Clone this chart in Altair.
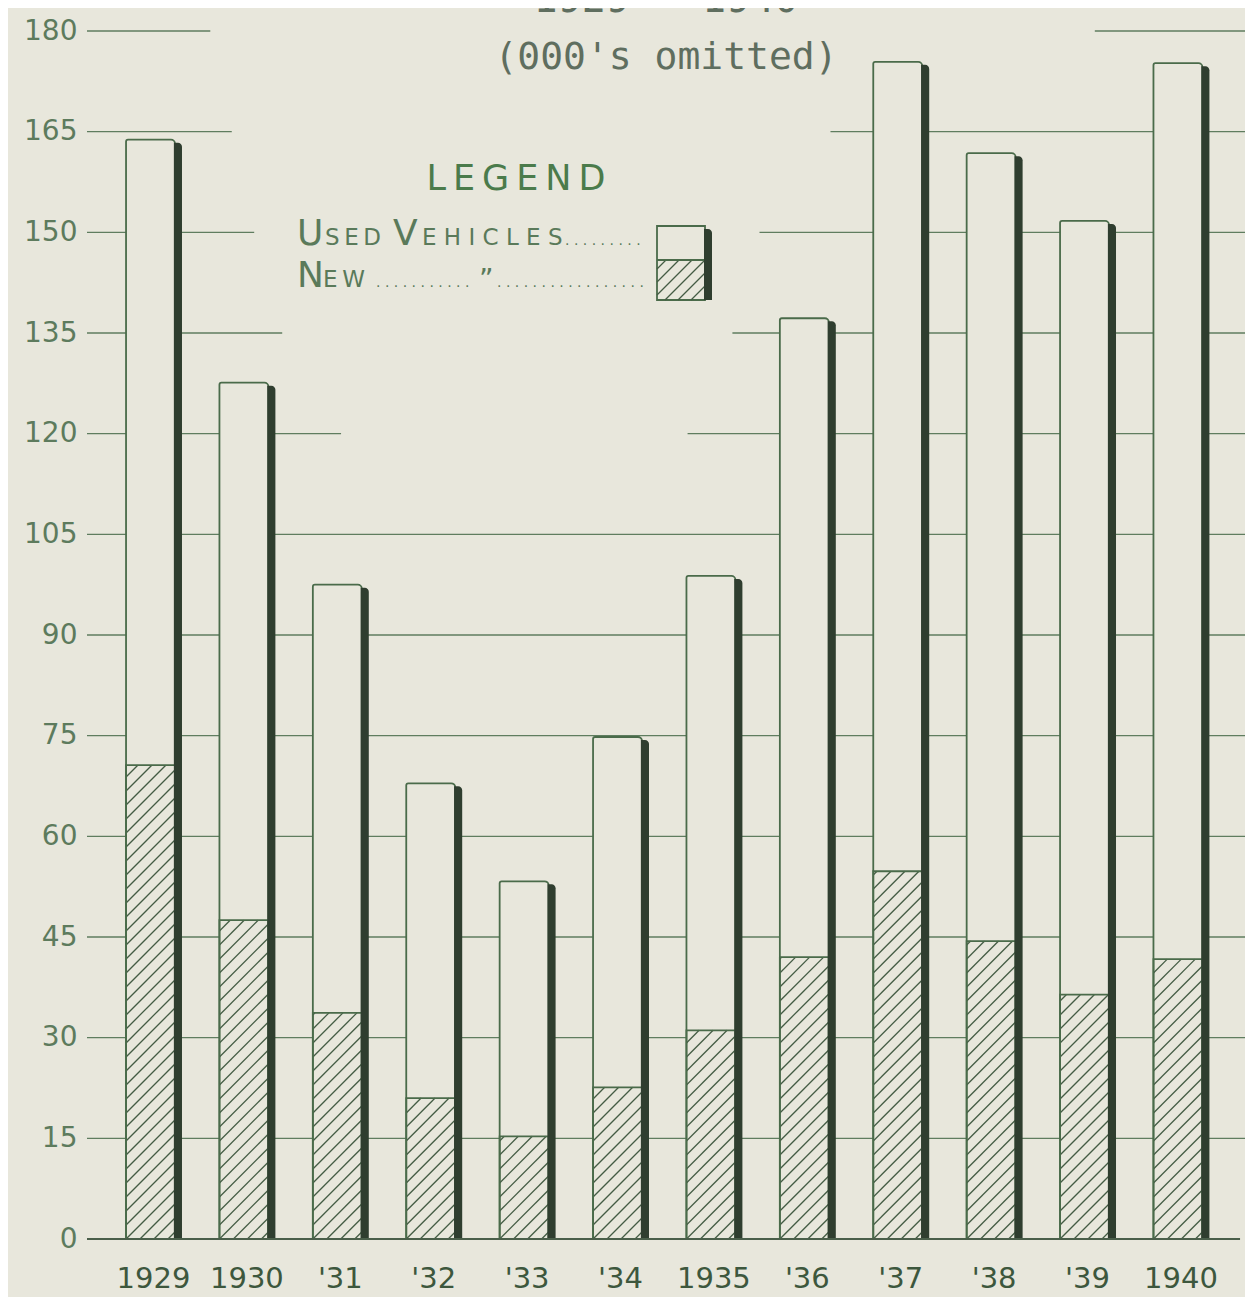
import altair as alt
import pandas as pd

# ---- data (thousands of vehicles) ----
years = ["1929", "1930", "'31", "'32", "'33", "'34", "1935", "'36", "'37", "'38", "'39", "1940"]
total = [163.8, 127.6, 97.5, 67.9, 53.3, 74.8, 98.8, 137.2, 175.4, 161.8, 151.7, 175.2]
new = [70.6, 47.5, 33.7, 21.0, 15.3, 22.6, 31.1, 42.0, 54.8, 44.4, 36.4, 41.7]
y_ticks = [0, 15, 30, 45, 60, 75, 90, 105, 120, 135, 150, 165, 180]
# hand-drawn gridlines are left out behind the title / legend (gap in bar-index units)
grid_gaps = {180: (0.64, 10.11), 165: (0.87, 7.28), 150: (1.11, 6.52),
             135: (1.41, 6.23), 120: (2.04, 5.75)}

# ---- layout / style ----
W, H = 1158, 1208
XD = (-0.68, 11.718)
HALF = 0.262          # half bar width (index units)
SHADOW = 0.075
BG = "#e8e7dc"
GREEN = "#4a6b4a"
DARK = "#2f3e2f"
PX_X = W / (XD[1] - XD[0])
PX_Y = H / 180.0

xs = alt.Scale(domain=list(XD), nice=False, zero=False)
ys = alt.Scale(domain=[0, 180], nice=False, zero=False)

df = pd.DataFrame({"i": list(range(len(years))), "year": years, "total": total, "new": new})
df["xl"] = df["i"] - HALF
df["xr"] = df["i"] + HALF
df["sx1"] = df["xr"] - 0.012
df["sx2"] = df["xr"] + SHADOW
df["stop"] = df["total"] - 3 / PX_Y

# gridline segments
seg = []
for t in y_ticks[1:]:
    if t in grid_gaps:
        a, b = grid_gaps[t]
        seg.append({"y": t, "x1": XD[0], "x2": a})
        seg.append({"y": t, "x1": b, "x2": XD[1]})
    else:
        seg.append({"y": t, "x1": XD[0], "x2": XD[1]})
grid_df = pd.DataFrame(seg)

# hatch lines (45 degrees on screen) inside the "new" part of every bar
k = PX_X / PX_Y
step = 14 / PX_Y
rows = []
for i, n in zip(df["i"], df["new"]):
    x0, x1 = i - HALF, i + HALF
    rise = k * (x1 - x0)
    c = -rise + step * 0.5
    while c < n:
        if c >= 0:
            sx, sy = x0, c
        else:
            sx, sy = x0 + (-c) / k, 0.0
        if c + rise <= n:
            ex, ey = x1, c + rise
        else:
            ex, ey = x0 + (n - c) / k, n
        if ex > sx and sy < n:
            rows.append({"hx": sx, "hy": sy, "hx2": ex, "hy2": ey})
        c += step
hatch_df = pd.DataFrame(rows)

base = alt.Chart(df)

grid = alt.Chart(grid_df).mark_rule(color="#5f7d5f", strokeWidth=1.3).encode(
    x=alt.X("x1:Q", scale=xs, axis=None), x2="x2:Q",
    y=alt.Y("y:Q", scale=ys, axis=alt.Axis(
        values=y_ticks, grid=False, ticks=False, domain=False, labelPadding=10,
        labelFont="DejaVu Sans", labelFontSize=28, labelColor="#5d7b5d", title=None)))

bars = base.mark_rect(fill=BG, stroke=GREEN, strokeWidth=1.8,
                      cornerRadiusTopLeft=2, cornerRadiusTopRight=4).encode(
    x=alt.X("xl:Q", scale=xs), x2="xr:Q",
    y=alt.Y("total:Q", scale=ys), y2=alt.datum(0))

hatch = alt.Chart(hatch_df).mark_rule(color="#445c44", strokeWidth=1.3).encode(
    x=alt.X("hx:Q", scale=xs), x2="hx2:Q",
    y=alt.Y("hy:Q", scale=ys), y2="hy2:Q")

new_outline = base.mark_rect(fillOpacity=0, stroke=GREEN, strokeWidth=1.8).encode(
    x=alt.X("xl:Q", scale=xs), x2="xr:Q",
    y=alt.Y("new:Q", scale=ys), y2=alt.datum(0))

shadow = base.mark_rect(fill=DARK, cornerRadiusTopRight=6).encode(
    x=alt.X("sx1:Q", scale=xs), x2="sx2:Q",
    y=alt.Y("stop:Q", scale=ys), y2=alt.datum(0))

baseline = alt.Chart(pd.DataFrame({"y": [0], "a": [XD[0]], "b": [11.665]})).mark_rule(
    color="#4a5f4a", strokeWidth=2).encode(
    x=alt.X("a:Q", scale=xs), x2="b:Q", y=alt.Y("y:Q", scale=ys))

xlabels = base.mark_text(font="DejaVu Sans", fontSize=29, color="#3d573d",
                         baseline="alphabetic", dx=3).encode(
    x=alt.X("i:Q", scale=xs), y=alt.value(H + 49), text="year:N")


def txt(s, x, y, size, color="#5a7a5a", align="left", font="DejaVu Sans"):
    return alt.Chart(pd.DataFrame({"t": [s]})).mark_text(
        align=align, baseline="alphabetic", fontSize=size, color=color, font=font).encode(
        x=alt.value(x), y=alt.value(y), text="t:N")


titles = [
    txt("1929 - 1940", 579, -19, 40, "#5f6e5f", "center", "DejaVu Sans Mono"),
    txt("(000's omitted)", 579, 38, 38, "#5f6e5f", "center", "DejaVu Sans Mono"),
    txt("L\u2009E\u2009G\u2009E\u2009N\u2009D", 429, 159, 35, "#4b7b4b", "center"),
    txt("U", 210, 214, 36), txt("S\u2009E\u2009D", 238, 214, 23),
    txt("V", 306, 214, 36), txt("E H I C L E S", 335, 214, 23),
    txt(". . . . . . . . .", 478, 214, 14),
    txt("N", 210, 256, 36), txt("E\u2009W", 236, 256, 23),
    txt(". . . . . . . . . . .", 289, 256, 14),
    txt("\u201d", 392, 258, 28),
    txt(". . . . . . . . . . . . . . . . .", 410, 256, 14),
]

# legend swatch (pixel space)
LX0, LX1, LY0, LYM, LY1 = 570, 618, 195, 229, 269
leg_rows = []
c = LY0 + 4
while c < LY1 + (LX1 - LX0):
    # line y = c - (x - LX0), clipped to [LX0,LX1] x [LYM,LY1]
    sx = max(LX0, LX0 + (c - LY1))
    ex = min(LX1, LX0 + (c - LYM))
    if ex > sx:
        leg_rows.append({"lx": sx, "ly": c - (sx - LX0), "lx2": ex, "ly2": c - (ex - LX0)})
    c += 13
leg_df = pd.DataFrame(leg_rows)
leg_hatch = alt.Chart(leg_df).mark_rule(color="#445c44", strokeWidth=1.3).encode(
    x=alt.X("lx:Q", scale=None), x2="lx2:Q", y=alt.Y("ly:Q", scale=None), y2="ly2:Q")

one = pd.DataFrame({"a": [0]})
leg_box = alt.Chart(one).mark_rect(fill=BG, stroke=GREEN, strokeWidth=1.8).encode(
    x=alt.value(LX0), x2=alt.value(LX1), y=alt.value(LY0), y2=alt.value(LY1))
leg_mid = alt.Chart(one).mark_rule(color=GREEN, strokeWidth=1.8).encode(
    x=alt.value(LX0), x2=alt.value(LX1), y=alt.value(LYM))
leg_shadow = alt.Chart(one).mark_rect(fill=DARK, cornerRadiusTopRight=4).encode(
    x=alt.value(LX1 - 1), x2=alt.value(LX1 + 7), y=alt.value(LY0 + 3), y2=alt.value(LY1))

chart = alt.layer(
    grid, bars, hatch, new_outline, shadow, baseline, xlabels,
    leg_box, leg_hatch, leg_mid, leg_shadow, *titles
).properties(
    width=W, height=H,
    autosize=alt.AutoSizeParams(type="none"),
    padding={"left": 79, "top": 23, "right": 0, "bottom": 58},
    background=BG,
).configure_view(stroke=None)

chart.save("out.html", embed_options={"renderer": "svg", "actions": False})
